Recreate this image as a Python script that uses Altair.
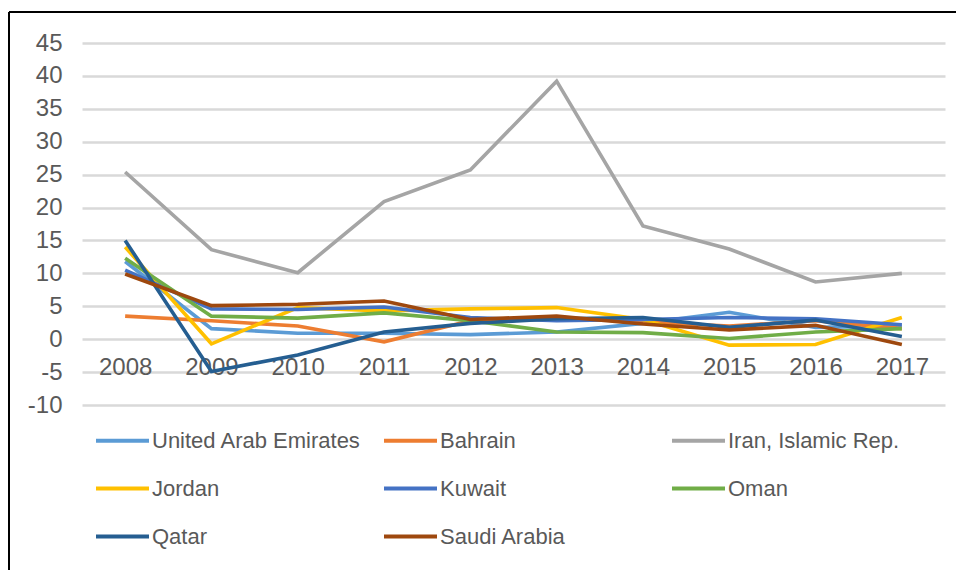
import altair as alt
import pandas as pd

years = ["2008", "2009", "2010", "2011", "2012", "2013", "2014", "2015", "2016", "2017"]
countries = ["United Arab Emirates", "Bahrain", "Iran, Islamic Rep.", "Jordan",
             "Kuwait", "Oman", "Qatar", "Saudi Arabia"]
colors = ["#5B9BD5", "#ED7D31", "#A5A5A5", "#FFC000", "#4472C4", "#70AD47", "#255E91", "#9E480E"]

uae = [11.8, 1.6, 0.9, 0.9, 0.7, 1.1, 2.4, 4.1, 1.8, 2.0]
bahrain = [3.5, 2.8, 2.0, -0.4, 2.8, 3.3, 2.6, 2.0, 2.8, 1.6]
iran = [25.4, 13.6, 10.1, 20.9, 25.7, 39.2, 17.2, 13.7, 8.7, 10.0]
jordan = [14.0, -0.7, 4.8, 4.3, 4.6, 4.8, 3.0, -0.9, -0.8, 3.3]
kuwait = [10.5, 4.6, 4.5, 4.9, 3.3, 2.8, 3.0, 3.3, 3.1, 2.2]
oman = [12.3, 3.5, 3.2, 4.0, 2.8, 1.1, 1.0, 0.1, 1.1, 1.6]
qatar = [15.0, -4.9, -2.4, 1.1, 2.4, 3.1, 3.3, 1.8, 2.9, 0.4]
saudi = [9.9, 5.1, 5.3, 5.8, 3.0, 3.5, 2.3, 1.4, 2.1, -0.8]

series = [uae, bahrain, iran, jordan, kuwait, oman, qatar, saudi]
y_ticks = list(range(-10, 50, 5))

rows = []
for ci, (name, vals) in enumerate(zip(countries, series)):
    for yr, v in zip(years, vals):
        rows.append({"year": yr, "value": v, "country": name, "order": ci})
df = pd.DataFrame(rows)

W, H = 863, 362
FONT = "Liberation Sans"
GREY = "#595959"

lines = alt.Chart(df).mark_line(strokeWidth=3.6, strokeJoin="miter").encode(
    x=alt.X("year:O", scale=alt.Scale(type="point", padding=0.5),
            axis=alt.Axis(title=None, labelAngle=0, domain=False, ticks=False, grid=False,
                          offset=-66, labelPadding=16, labelFontSize=24,
                          labelColor=GREY, labelFont=FONT)),
    y=alt.Y("value:Q", scale=alt.Scale(domain=[-10, 45], nice=False, zero=False),
            axis=alt.Axis(title=None, values=y_ticks, domain=False, ticks=False,
                          gridColor="#D9D9D9", gridWidth=2.5, labelPadding=20,
                          labelFontSize=24, labelColor=GREY, labelFont=FONT,
                          labelExpr="'' + datum.value")),
    color=alt.Color("country:N", scale=alt.Scale(domain=countries, range=colors),
                    legend=alt.Legend(title=None, orient="none", legendX=12, legendY=369,
                                      direction="horizontal", gridAlign="all",
                                      columns=3, columnPadding=14, rowPadding=8,
                                      symbolType="stroke", symbolSize=2809,
                                      symbolStrokeWidth=4, symbolOpacity=1,
                                      labelFontSize=22,
                                      labelColor=GREY, labelFont=FONT, labelLimit=400,
                                      labelOffset=1)),
    order=alt.Order("order:Q"),
)

frame_top = alt.Chart(df).mark_rule(color="#000000", strokeWidth=1.2).encode(
    x=alt.value(-73), x2=alt.value(W + 20), y=alt.value(-31))
frame_left = alt.Chart(df).mark_rule(color="#000000", strokeWidth=1.2).encode(
    x=alt.value(-73), y=alt.value(-31), y2=alt.value(H + 170))

chart = alt.layer(frame_top, frame_left, lines).properties(
    width=W, height=H,
    background="white",
    autosize=alt.AutoSizeParams(type="none"),
    padding={"left": 74, "top": 35, "right": 11, "bottom": 165},
).configure_view(stroke=None)

chart.save("out.html", embed_options={"renderer": "svg", "actions": False})
